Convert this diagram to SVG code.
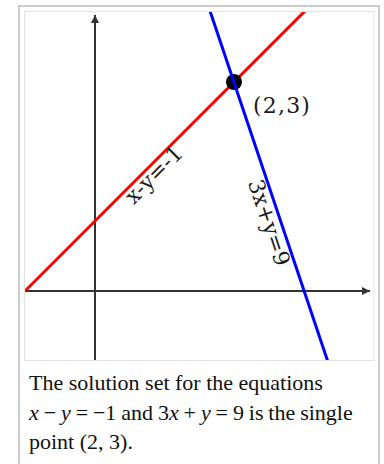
<svg xmlns="http://www.w3.org/2000/svg" width="384" height="464" viewBox="0 0 384 464">
  <style>
    .axis { stroke: #333; stroke-width: 2; fill: none; }
    .lbl { font-family: "DejaVu Serif", serif; font-size: 22px; fill: #1a1a1a; }
    .cap { font-family: "Liberation Serif", "Times New Roman", serif; font-size: 22px; fill: #111; }
    .it { font-style: italic; }
  </style>
  <defs>
    <clipPath id="plot">
      <rect x="25" y="12" width="348.5" height="348"/>
    </clipPath>
    <marker id="arr" viewBox="0 0 10 10" refX="10" refY="5" markerWidth="4.5" markerHeight="4" markerUnits="strokeWidth" orient="auto">
      <path d="M0,0 L10,5 L0,10 z" fill="#333"/>
    </marker>
  </defs>
  <rect x="0" y="0" width="384" height="464" fill="#ffffff"/>
  <g id="frame">
    <rect x="19" y="6" width="360" height="470" fill="#ffffff" stroke="#cccccc" stroke-width="2"/>
    <rect x="24.5" y="11.5" width="349.5" height="349" fill="#ffffff" stroke="#e2e2e2" stroke-width="1"/>
  </g>
  <g id="plot-area" clip-path="url(#plot)">
    <g id="axes">
      <line class="axis" x1="95" y1="362" x2="95" y2="15" marker-end="url(#arr)"/>
      <line class="axis" x1="24" y1="291" x2="370" y2="291" marker-end="url(#arr)"/>
    </g>
    <g id="line-red">
      <line x1="25" y1="291" x2="310" y2="6" stroke="#ff0000" stroke-width="3"/>
    </g>
    <g id="point">
      <circle cx="234" cy="82" r="8" fill="#000"/>
    </g>
    <g id="line-blue">
      <line x1="208" y1="5" x2="330" y2="368" stroke="#0000ff" stroke-width="3"/>
    </g>
  </g>
  <g id="labels">
    <text class="lbl" x="253" y="113" letter-spacing="1.2">(2,3)</text>
    <text class="lbl" text-anchor="middle" transform="translate(159,180) rotate(-45)">x-y=-1</text>
    <text class="lbl" text-anchor="middle" transform="translate(262,225) rotate(71.57)">3x+y=9</text>
  </g>
  <g id="caption">
    <text class="cap" x="29" y="390">The solution set for the equations</text>
    <text class="cap" x="29" y="420" word-spacing="-0.6"><tspan class="it">x</tspan> − <tspan class="it">y</tspan> = −1 and 3<tspan class="it">x</tspan> + <tspan class="it">y</tspan> = 9 is the single</text>
    <text class="cap" x="29" y="449">point (2, 3).</text>
  </g>
</svg>
